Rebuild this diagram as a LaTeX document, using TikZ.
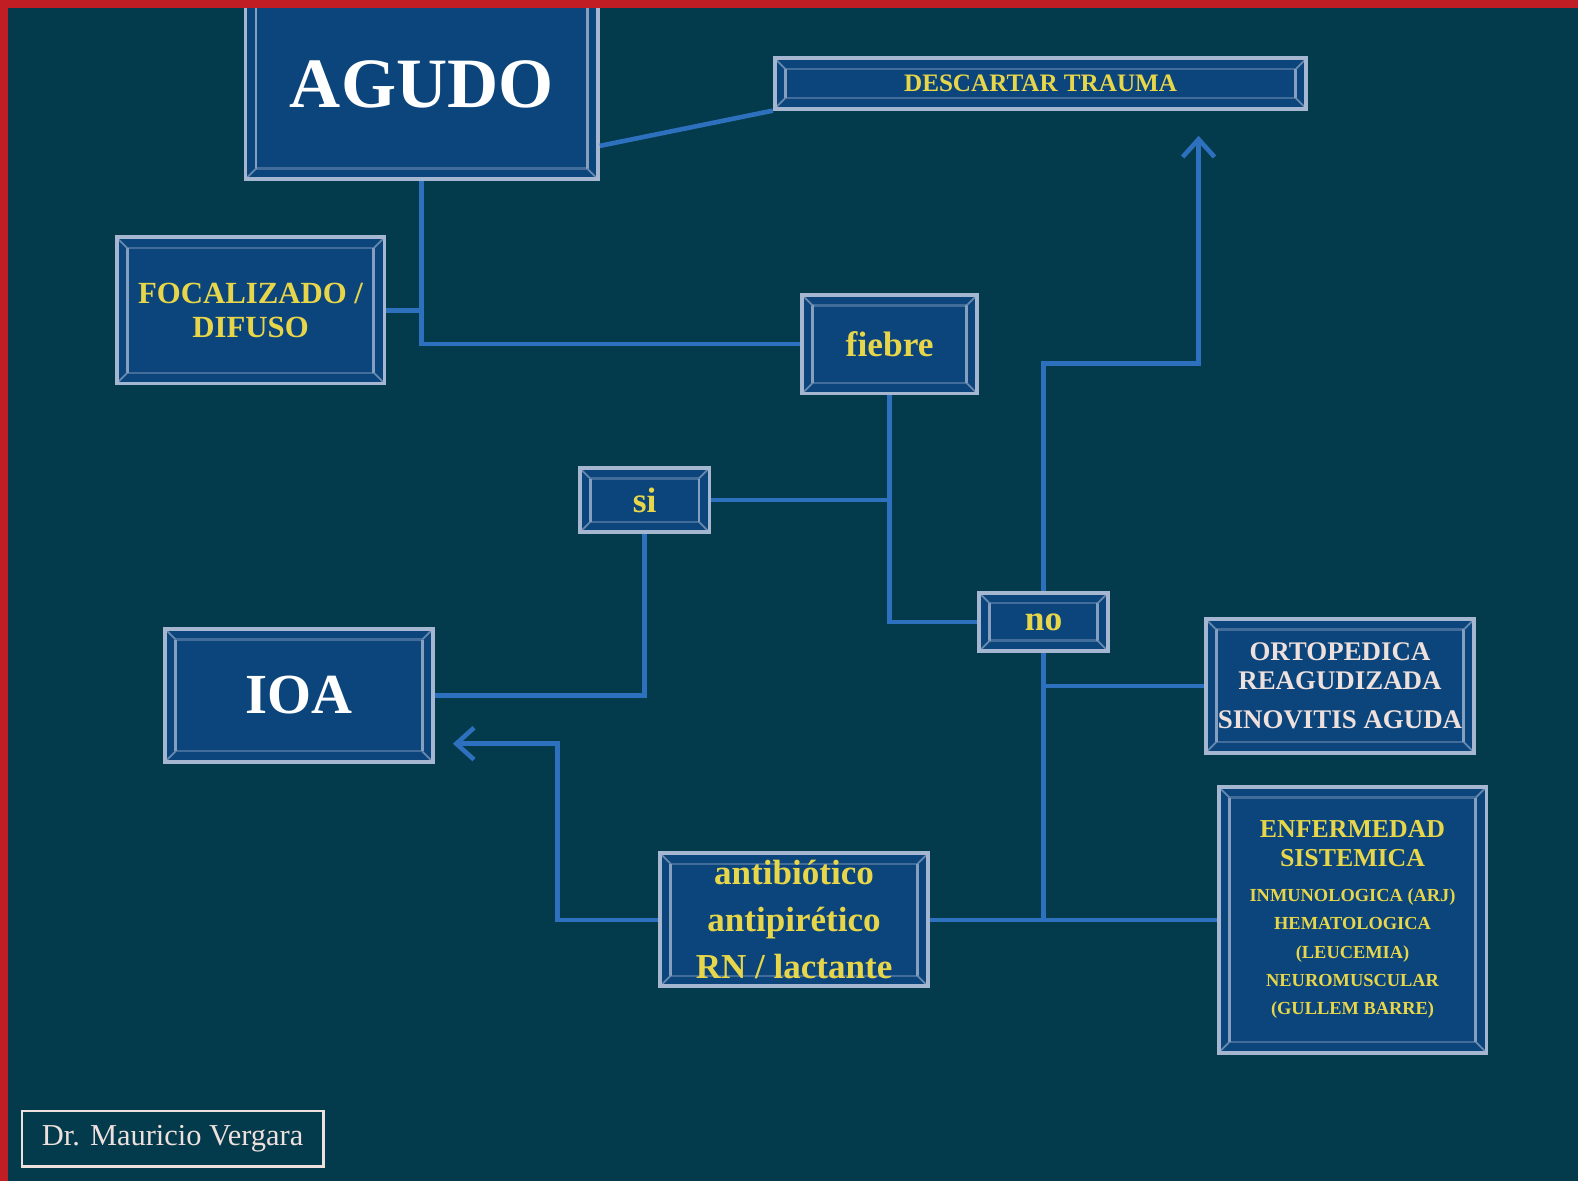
\documentclass[tikz,border=0pt]{standalone}
\usepackage{fontspec}
\setmainfont{Liberation Serif}
\usetikzlibrary{arrows.meta,calc}
\definecolor{bgteal}{RGB}{3,58,76}
\definecolor{boxblue}{RGB}{12,69,124}
\definecolor{boxedge}{RGB}{165,182,208}
\definecolor{linkblue}{RGB}{45,112,190}
\definecolor{textyellow}{RGB}{232,214,74}
\definecolor{textpale}{RGB}{238,224,220}
\definecolor{framered}{RGB}{192,30,36}

\begin{document}
\begin{tikzpicture}[x=0.01cm, y=-0.01cm,
		box/.style={draw=boxedge, line width=1.1pt, fill=boxblue, inner sep=0pt, align=center, text=textyellow,
			path picture={
				\draw[boxedge!35!boxblue, line width=0.6pt] ([shift={(3pt,-3pt)}]path picture bounding box.north west) rectangle ([shift={(-3pt,3pt)}]path picture bounding box.south east);
				\draw[boxedge!80!boxblue, line width=0.8pt] ([shift={(3pt,-3pt)}]path picture bounding box.north west) -- ([shift={(3pt,3pt)}]path picture bounding box.south west);
				\draw[boxedge!80!boxblue, line width=0.8pt] ([shift={(-3pt,-3pt)}]path picture bounding box.north east) -- ([shift={(-3pt,3pt)}]path picture bounding box.south east);
				\draw[boxedge!60!boxblue, line width=0.5pt] (path picture bounding box.north west) -- ++(3pt,-3pt) (path picture bounding box.north east) -- ++(-3pt,-3pt) (path picture bounding box.south west) -- ++(3pt,3pt) (path picture bounding box.south east) -- ++(-3pt,3pt);
			}},
		bigText/.style={font=\fontsize{#1}{#1}\selectfont\bfseries},
		link/.style={line width=1.3pt, color=linkblue},
		tipLink/.style={link, -{Straight Barb[length=5pt,width=9pt]}},
		%		signature box at the bottom
		signBox/.style={draw=textpale, line width=0.8pt, inner sep=0pt, text=textpale, font=\fontsize{8.6}{10}\selectfont},
		]
		
		\useasboundingbox (0,0) rectangle (1568,1174);
		\fill[bgteal] (0,0) rectangle (1568,1174);
		
		\node[box, bigText=20, text=white, minimum width=3.5cm, minimum height=1.88cm] (agudo) at (419,84) {AGUDO};
		\node[box, bigText=7.1, minimum width=5.28cm, minimum height=0.5cm] (trauma) at (1034,83) {DESCARTAR TRAUMA};
		\node[box, font=\fontsize{8.7}{9.5}\selectfont\bfseries, minimum width=2.66cm, minimum height=1.45cm] (focal) at (249,308.5) {FOCALIZADO /\\DIFUSO};
		\node[box, bigText=10, minimum width=1.74cm, minimum height=0.98cm] (fiebre) at (884,342) {fiebre};
		\node[box, bigText=10, minimum width=1.29cm, minimum height=0.64cm] (si) at (640.5,497) {si};
		\node[box, bigText=10, minimum width=1.28cm, minimum height=0.58cm] (no) at (1037,618) {no};
		\node[box, bigText=16, text=white, minimum width=2.66cm, minimum height=1.32cm] (ioa) at (297,691) {IOA};
		\node[box, font=\fontsize{7.6}{8}\selectfont\bfseries, text=textpale, minimum width=2.67cm, minimum height=1.33cm] (orto) at (1331.5,681.5) {ORTOPEDICA\\REAGUDIZADA\\[3pt]SINOVITIS AGUDA};
		\node[box, font=\fontsize{7.3}{8}\selectfont\bfseries, minimum width=2.66cm, minimum height=2.64cm] (enf) at (1344,914)
		{ENFERMEDAD\\SISTEMICA\\[2pt]\fontsize{5.2}{9}\selectfont INMUNOLOGICA (ARJ)\\\fontsize{5.2}{9}\selectfont HEMATOLOGICA\\\fontsize{5.2}{9}\selectfont (LEUCEMIA)\\\fontsize{5.2}{9}\selectfont NEUROMUSCULAR\\\fontsize{5.2}{9}\selectfont (GULLEM BARRE)};
		\node[box, font=\fontsize{9.9}{13.3}\selectfont\bfseries, minimum width=2.66cm, minimum height=1.32cm] (anti) at (789,914) {antibiótico\\antipirético\\RN / lactante};
		\node[signBox, minimum width=2.99cm, minimum height=0.55cm] (firma) at (171.5,1131.5) {Dr. Mauricio Vergara};
		
		\coordinate (upBend) at (1191,361);
		\coordinate (upTip) at (1191,135);
		\coordinate (backBend) at (554,739);
		\coordinate (backTip) at (450,739);
		
		\draw [link] ($(agudo.south east)+(0,-35)$) -- (trauma.south west);
		\draw [link] (agudo.south) |- (fiebre.west);
		\draw [link] (focal.east) -- (focal.east -| agudo.south);
		
		\draw [link] (fiebre.south) |- (no.west);
		\draw [link] (si.east) -- (si.east -| fiebre.south);
		\draw [link] (si.south) |- (ioa.east);
		
		\draw [tipLink] (no.north) |- (upBend) -- (upTip);
		\draw [link] (no.south) -- (no.south |- anti.east);
		\draw [link] (no.south |- orto.west) -- (orto.west);
		\draw [link] (anti.east) -- (enf.west);
		\draw [tipLink] (anti.west) -| (backBend) -- (backTip);
		
		\fill[framered] (0,0) rectangle (1568,8);
		\fill[framered] (0,0) rectangle (8,1174);
		
\end{tikzpicture}
\end{document}
